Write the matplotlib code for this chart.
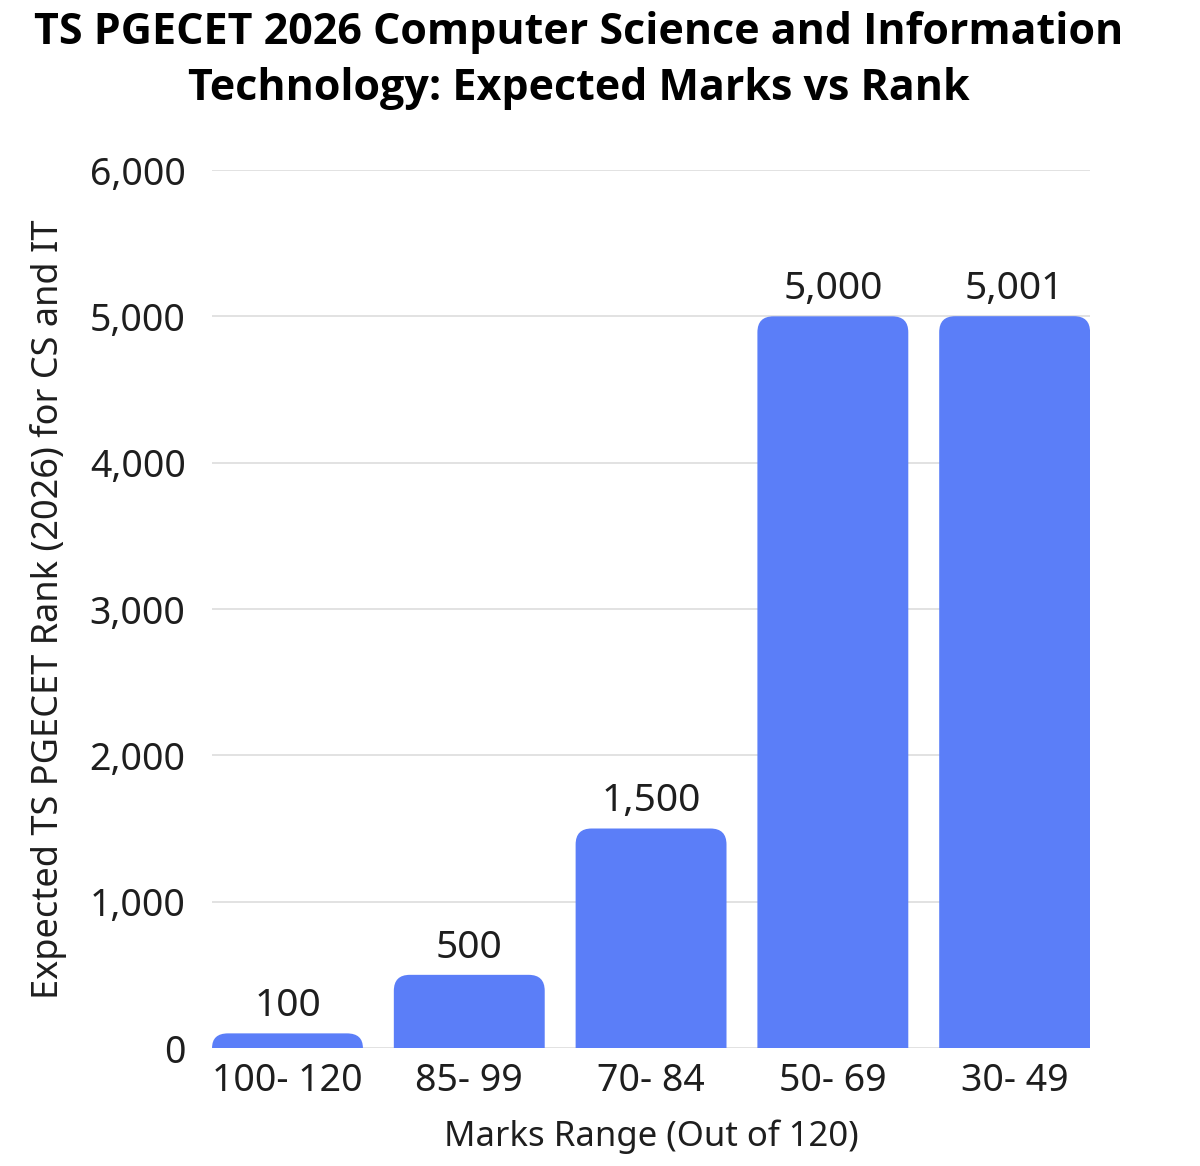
import matplotlib.pyplot as plt
from matplotlib.path import Path
from matplotlib.patches import PathPatch

marks = ["100- 120", "85- 99", "70- 84", "50- 69", "30- 49"]
ranks = [100, 500, 1500, 5000, 5001]

plt.rcParams['font.family'] = ['Noto Sans', 'DejaVu Sans']

fig = plt.figure(figsize=(12, 11.66), dpi=100)
ax = fig.add_axes([0.1767, 0.1012, 0.7317, 0.753])
ax.set_xlim(-0.415, len(marks) - 1 + 0.415)
ax.set_ylim(0, 6000)

color = "#5B7EF8"
txt = "#1e1e1e"
width = 0.83
bars = ax.bar(range(len(marks)), ranks, width=width, color="none", zorder=3)

# rounded top corners: radius in pixels converted to data units
r_px = 16
ppx = ax.get_window_extent().width / (ax.get_xlim()[1] - ax.get_xlim()[0])
ppy = ax.get_window_extent().height / (ax.get_ylim()[1] - ax.get_ylim()[0])
for b in bars:
    x0, w, h = b.get_x(), b.get_width(), b.get_height()
    rx = r_px / ppx
    ry = min(r_px / ppy, h)
    verts = [(x0, 0), (x0, h - ry), (x0, h), (x0 + rx, h),
             (x0 + w - rx, h), (x0 + w, h), (x0 + w, h - ry),
             (x0 + w, 0), (x0, 0)]
    codes = [Path.MOVETO, Path.LINETO, Path.CURVE3, Path.CURVE3,
             Path.LINETO, Path.CURVE3, Path.CURVE3, Path.LINETO, Path.CLOSEPOLY]
    ax.add_patch(PathPatch(Path(verts, codes), facecolor=color, edgecolor="none", zorder=3))
    ax.annotate(f"{int(h):,}", (x0 + w / 2, h), xytext=(0, 6), textcoords="offset points",
                ha="center", va="bottom", fontsize=28, color=txt)

ax.set_yticks(range(0, 6001, 1000))
ax.set_yticklabels([f"{v:,}" for v in range(0, 6001, 1000)])
ax.set_xticks(range(len(marks)))
ax.set_xticklabels(marks)
ax.tick_params(axis="both", length=0, labelsize=27, colors=txt)
ax.tick_params(axis="y", pad=19)
ax.tick_params(axis="x", pad=10)
ax.grid(axis="y", color="#dddddd", linewidth=1.2, zorder=0)
for s in ax.spines.values():
    s.set_visible(False)

ax.set_xlabel("Marks Range (Out of 120)", fontsize=25, color=txt, labelpad=14)
ax.set_ylabel("Expected TS PGECET Rank (2026) for CS and IT", fontsize=26, color=txt, labelpad=16)
fig.suptitle("TS PGECET 2026 Computer Science and Information\nTechnology: Expected Marks vs Rank",
             fontsize=31, fontweight="bold", family=["Open Sans", "DejaVu Sans"],
             x=0.482, y=0.948, va="center", linespacing=1.4)

plt.savefig("out.png")
